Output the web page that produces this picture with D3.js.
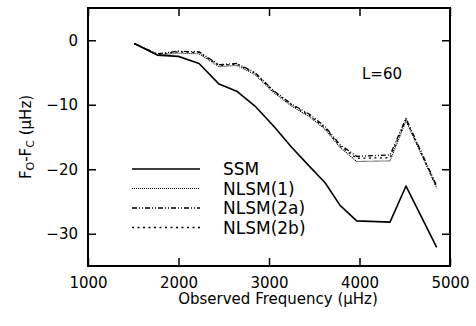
<!DOCTYPE html>
<html>
<head>
<meta charset="utf-8">
<script src="https://cdn.jsdelivr.net/npm/d3@7"></script>
<style>
  body { margin: 0; background: #fff; }
  text { font-family: "DejaVu Sans", sans-serif; fill: #000; }
</style>
</head>
<body>
<div id="chart"></div>
<script>
// data
var freq = [1511, 1766, 1998, 2227, 2448, 2643, 2845, 3050, 3250, 3450, 3620, 3785, 3969, 4337, 4514, 4853];
var ssm = [-0.5, -2.3, -2.5, -3.6, -6.8, -7.9, -10.2, -13.3, -16.6, -19.6, -22.1, -25.6, -28.0, -28.2, -22.6, -32.1];
var nlsm1 = [-0.5, -2.3, -2.0, -2.1, -4.1, -3.9, -5.3, -8.1, -10.2, -11.9, -13.8, -16.6, -18.8, -18.7, -12.5, -22.9];
var nlsm2a = [-0.5, -2.1, -1.7, -1.8, -3.8, -3.6, -5.0, -7.8, -9.9, -11.5, -13.4, -16.2, -18.0, -17.8, -12.1, -22.6];
var nlsm2b = [-0.5, -2.2, -1.8, -1.9, -3.9, -3.7, -5.1, -7.9, -10.0, -11.7, -13.6, -16.4, -18.3, -18.2, -12.3, -22.8];

var xTicks = [1000, 2000, 3000, 4000, 5000];
var yTicks = [0, -10, -20, -30];

var series = [
    {name: "SSM", values: ssm, dash: null, width: 1.6},
    {name: "NLSM(1)", values: nlsm1, dash: "1,1", width: 1.1},
    {name: "NLSM(2a)", values: nlsm2a, dash: "5,2,1,2,1,2", width: 1.3},
    {name: "NLSM(2b)", values: nlsm2b, dash: "2,3.5", width: 1.3}
];

var margin = {top: 8, right: 26, bottom: 60, left: 88};
var W = 476, H = 326;
var width = W - margin.left - margin.right;
var height = H - margin.top - margin.bottom;
var fs = "15px";

var svg = d3.select("#chart").append("svg")
    .attr("width", W)
    .attr("height", H);

var g = svg.append("g")
    .attr("transform", "translate(" + margin.left + "," + margin.top + ")");

var x = d3.scaleLinear().domain([1000, 5000]).range([0, width]);
var y = d3.scaleLinear().domain([-35, 5]).range([height, 0]);

// axes with inward ticks, labels only bottom/left
g.append("g")
    .attr("transform", "translate(0," + height + ")")
    .call(d3.axisBottom(x).tickValues(xTicks).tickSize(-8).tickPadding(11).tickFormat(d3.format("d")))
    .call(a => a.select(".domain").remove());

g.append("g")
    .call(d3.axisTop(x).tickValues(xTicks).tickSize(-8).tickFormat(""))
    .call(a => a.select(".domain").remove());

g.append("g")
    .call(d3.axisLeft(y).tickValues(yTicks).tickSize(-8).tickPadding(10).tickFormat(d3.format("d")))
    .call(a => a.select(".domain").remove());

g.append("g")
    .attr("transform", "translate(" + width + ",0)")
    .call(d3.axisRight(y).tickValues(yTicks).tickSize(-8).tickFormat(""))
    .call(a => a.select(".domain").remove());

g.selectAll(".tick line").attr("stroke", "#000").attr("stroke-width", 1.5);
g.selectAll(".tick text")
    .attr("fill", "#000")
    .style("font-family", "DejaVu Sans, sans-serif")
    .style("font-size", fs);

// frame
g.append("rect")
    .attr("width", width)
    .attr("height", height)
    .attr("fill", "none")
    .attr("stroke", "#000")
    .attr("stroke-width", 2);

var line = d3.line()
    .x((d, i) => x(freq[i]))
    .y(d => y(d));

series.forEach(function(s) {
    g.append("path")
        .datum(s.values)
        .attr("d", line)
        .attr("fill", "none")
        .attr("stroke", "#000")
        .attr("stroke-width", s.width)
        .attr("stroke-dasharray", s.dash)
        .attr("stroke-linejoin", "round");
});

// legend
var legend = g.append("g");
series.forEach(function(s, i) {
    var ly = 161 + i * 19.5;
    legend.append("line")
        .attr("x1", 44).attr("x2", 112)
        .attr("y1", ly).attr("y2", ly)
        .attr("stroke", "#000")
        .attr("stroke-width", s.width)
        .attr("stroke-dasharray", s.dash);
    legend.append("text")
        .attr("x", 135)
        .attr("y", ly + 6)
        .style("font-size", "17px")
        .text(s.name);
});

// annotation
g.append("text")
    .attr("x", 274)
    .attr("y", 71)
    .style("font-size", fs)
    .text("L=60");

// axis titles
svg.append("text")
    .attr("x", 278)
    .attr("y", 304)
    .attr("text-anchor", "middle")
    .style("font-size", fs)
    .text("Observed Frequency (\u03bcHz)");

var yl = svg.append("text")
    .attr("transform", "translate(31," + (margin.top + height / 2) + ") rotate(-90)")
    .attr("text-anchor", "middle")
    .style("font-size", fs);
yl.append("tspan").text("F");
yl.append("tspan").attr("dy", 3).style("font-size", "11px").text("O");
yl.append("tspan").attr("dy", -3).text("-F");
yl.append("tspan").attr("dy", 3).style("font-size", "11px").text("C");
yl.append("tspan").attr("dy", -3).text(" (\u03bcHz)");
</script>
</body>
</html>
